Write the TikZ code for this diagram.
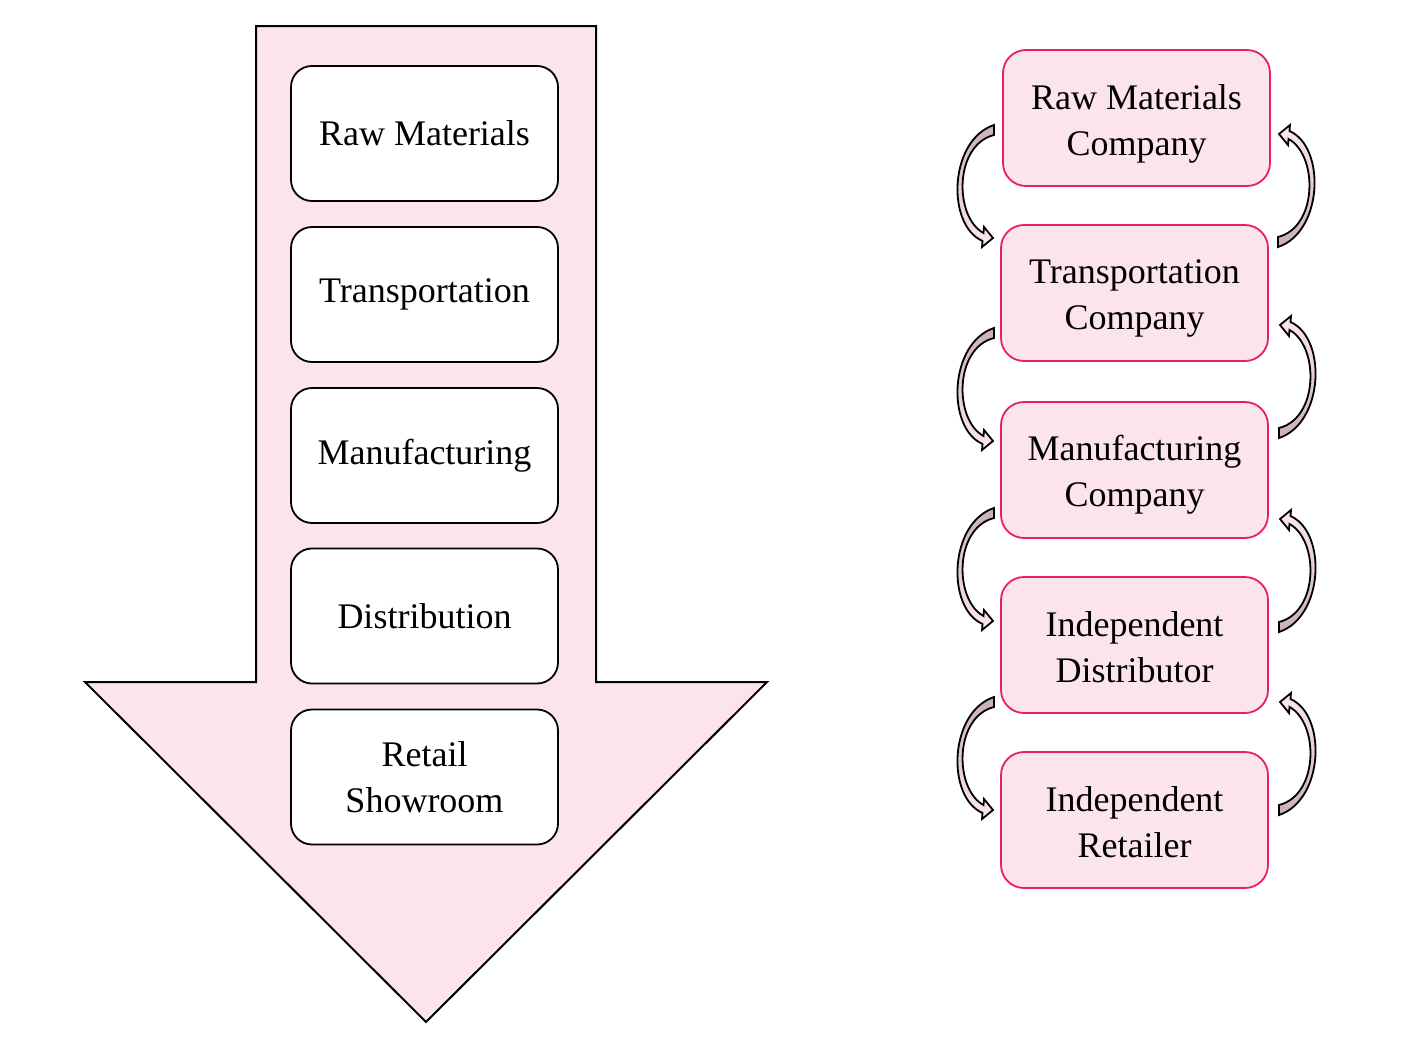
\documentclass[tikz,border=0pt]{standalone}
\usepackage{fontspec}
\setmainfont{Liberation Serif}
\definecolor{pinkfill}{HTML}{FCE4EC}
\definecolor{pinkline}{HTML}{E91E63}
\definecolor{mauve}{HTML}{C9AFB8}
\definecolor{lightarr}{HTML}{FDE8EF}
\newcommand\tstrut[1]{\rule{0pt}{#1}}
\tikzset{
  bigarrow/.style={draw=black, line width=2pt, fill=pinkfill, line join=miter},
  lbox/.style={draw=black, line width=1.8pt, fill=white, rounded corners=21pt,
    minimum width=267pt, minimum height=135pt, inner sep=0pt, align=center,
    font=\fontsize{36}{46}\selectfont},
  rbox/.style={draw=pinkline, line width=1.8pt, fill=pinkfill, rounded corners=23pt,
    minimum width=267pt, minimum height=136pt, inner sep=0pt, align=center,
    font=\fontsize{36}{46}\selectfont},
  curvarr/.style={draw=black, line width=1.8pt, line join=miter}
}
\newcommand\lcurv[2]{%
  \path[curvarr, top color=mauve, bottom color=lightarr, shift={(#1,#2)}]
    (0,0) .. controls (-45,15) and (-48,100) .. (-11.5,116) -- (-12,122) -- (-1,113)
    -- (-10,102) -- (-10.5,108) .. controls (-40,92) and (-40,20) .. (0,10) -- cycle;}
\newcommand\rcurv[2]{%
  \path[curvarr, top color=lightarr, bottom color=mauve, shift={(#1,#2)}]
    (0,0) .. controls (45,-15) and (48,-100) .. (11.5,-116) -- (12,-122) -- (1,-113)
    -- (10,-102) -- (10.5,-108) .. controls (40,-92) and (40,-20) .. (0,-10) -- cycle;}
\begin{document}
\begin{tikzpicture}[x=1pt, y=-1pt]
\useasboundingbox[fill=white] (0,0) rectangle (1403,1044);
% big down arrow
\draw[bigarrow] (256,26) -- (596,26) -- (596,682) -- (767,682) -- (426,1022)
  -- (85,682) -- (256,682) -- cycle;
% left boxes
\node[lbox] (l1) at (424.5,133.5) {Raw Materials};
\node[lbox] (l2) at (424.5,294.5) {Transportation};
\node[lbox] (l3) at (424.5,455.5) {Manufacturing};
\node[lbox] (l4) at (424.5,616) {Distribution};
\node[lbox] (l5) at (424.5,777) {Retail\\Showroom};
% right boxes
\node[rbox] (r1) at (1136.5,118) {\tstrut{36pt}Raw Materials\\Company};
\node[rbox] (r2) at (1134.5,293) {\tstrut{34pt}Transportation\\Company};
\node[rbox] (r3) at (1134.5,470) {\tstrut{34pt}Manufacturing\\Company};
\node[rbox] (r4) at (1134.5,645) {\tstrut{30pt}Independent\\Distributor};
\node[rbox] (r5) at (1134.5,820) {\tstrut{30pt}Independent\\Retailer};
% curved arrows
\lcurv{994}{125}
\lcurv{994}{328}
\lcurv{994}{508}
\lcurv{994}{697}
\rcurv{1278}{247}
\rcurv{1279}{438}
\rcurv{1279}{632}
\rcurv{1279}{815}
\end{tikzpicture}
\end{document}
